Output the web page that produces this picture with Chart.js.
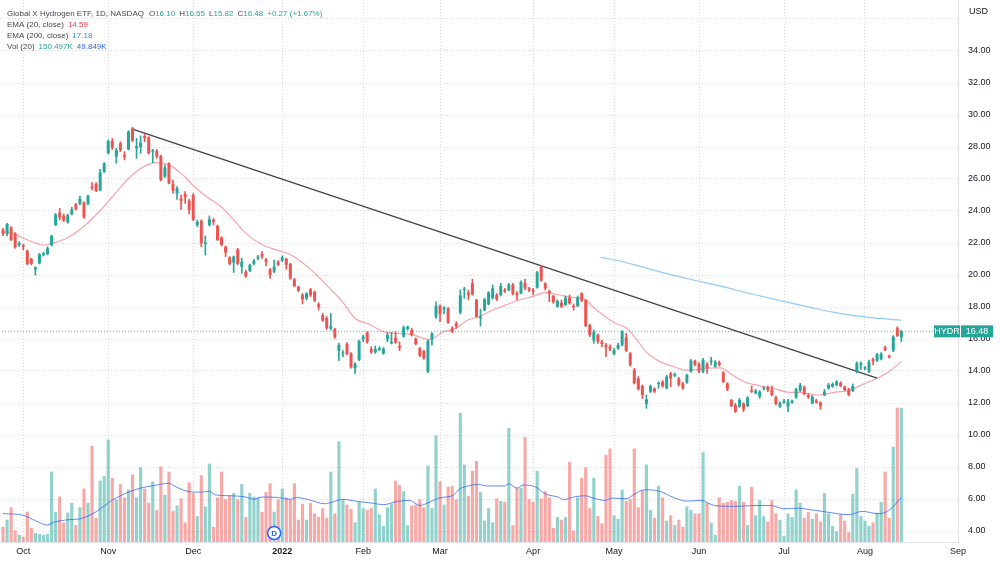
<!DOCTYPE html>
<html>
<head>
<meta charset="utf-8">
<title>Global X Hydrogen ETF, 1D</title>
<script src="https://cdn.jsdelivr.net/npm/chart.js@4.4.0/dist/chart.umd.min.js"></script>
<style>
  html, body { margin: 0; padding: 0; background: #ffffff; }
  canvas { display: block; }
</style>
</head>
<body>
<canvas id="chart" width="1000" height="563"></canvas>
<script>
// daily bars, index 0 = 24 Sep 2021 ... index 222 = 12 Aug 2022
const opens = [
  22.81,22.56,22.98,22.60,21.87,21.87,21.52,21.00,20.35,20.73,
  21.25,21.31,21.87,23.13,23.90,23.69,23.29,23.79,24.42,24.44,
  24.54,24.44,25.52,25.69,25.31,26.46,27.60,28.38,27.40,28.23,
  27.50,27.85,29.17,27.92,28.00,28.69,28.60,27.71,27.75,27.44,
  26.15,26.98,25.69,25.10,24.79,25.06,24.65,25.00,23.13,23.40,
  21.94,23.13,23.44,23.06,22.33,21.77,21.10,20.77,21.60,20.52,
  20.21,20.25,20.69,21.04,21.31,20.98,20.35,20.21,20.83,20.90,
  21.00,20.69,19.73,19.27,18.75,18.54,19.10,18.96,18.17,17.50,
  17.31,16.65,16.63,15.27,15.08,15.69,15.10,14.17,14.69,15.98,
  16.40,15.38,15.17,15.33,15.10,15.98,15.73,16.08,15.56,16.15,
  16.63,16.56,16.02,15.42,15.25,13.96,15.98,17.40,18.08,17.85,
  17.92,16.67,16.98,17.65,19.06,18.90,19.48,18.44,17.29,17.81,
  18.17,18.54,18.75,18.75,19.06,19.06,19.40,18.85,18.85,19.52,
  19.17,19.06,19.21,20.52,19.48,19.00,18.69,18.02,18.27,18.13,
  18.58,18.08,18.06,18.85,18.44,16.88,15.90,16.25,15.83,15.63,
  15.52,15.06,15.42,15.63,16.10,15.10,14.06,13.54,13.06,11.94,
  12.71,12.90,13.19,13.33,12.92,13.85,13.71,13.54,13.23,13.27,
  13.96,14.65,14.44,13.96,14.44,14.56,14.27,14.54,13.92,13.23,
  12.19,11.88,11.77,11.98,11.81,12.81,12.60,12.40,12.90,12.98,
  12.85,12.35,11.77,12.02,11.77,12.02,12.35,12.77,13.02,12.50,
  11.98,12.15,12.02,12.50,12.92,13.02,13.13,13.27,13.02,12.85,
  12.77,13.96,14.38,14.15,13.96,14.73,14.65,14.73,15.48,14.96,
  15.27,16.67,16.10
];
const highs = [
  22.92,23.23,23.02,22.65,22.08,21.92,21.56,21.04,20.52,21.35,
  21.42,21.77,22.50,23.85,24.17,23.81,23.81,24.23,24.48,24.94,
  24.58,25.00,25.77,25.77,26.60,27.02,28.44,28.54,27.92,28.33,
  27.71,29.02,29.23,28.54,28.69,28.81,28.65,27.85,27.85,27.50,
  26.88,27.02,25.94,25.52,25.00,25.21,24.73,25.10,23.44,23.44,
  22.44,23.69,23.54,23.13,22.40,21.81,21.15,21.19,21.67,21.04,
  20.31,20.69,20.98,21.23,21.46,21.04,20.42,20.94,20.90,21.19,
  21.04,20.73,19.79,19.31,18.85,18.90,19.17,19.00,18.27,17.60,
  17.40,17.60,16.67,15.73,15.27,15.77,15.15,14.52,15.94,16.23,
  16.46,15.52,15.56,15.52,15.46,16.40,16.40,16.46,15.83,16.81,
  16.81,16.67,16.08,15.48,15.31,15.94,16.40,18.33,18.13,18.02,
  17.96,16.77,17.08,19.06,19.23,19.06,19.73,18.48,17.85,18.54,
  18.96,19.38,18.85,19.48,19.17,19.48,19.48,18.96,19.63,19.73,
  19.23,19.17,20.23,20.60,19.52,19.06,18.75,18.44,18.44,18.69,
  18.75,18.19,18.69,18.90,18.48,16.92,16.56,16.31,15.94,15.73,
  15.63,15.42,15.73,16.52,16.35,15.15,14.17,13.65,13.13,12.50,
  13.13,12.96,13.33,13.40,13.73,13.92,13.88,13.60,13.29,13.81,
  14.73,14.69,14.52,14.79,14.52,14.85,14.65,14.63,13.96,13.27,
  12.23,11.98,12.29,12.02,12.40,13.06,12.85,12.77,13.02,13.06,
  13.06,12.44,12.08,12.23,12.23,12.19,12.92,13.23,13.06,12.60,
  12.48,12.23,12.08,12.85,13.23,13.27,13.40,13.33,13.06,12.92,
  13.19,14.58,14.58,14.27,14.69,14.81,15.10,15.15,15.56,15.00,
  16.21,16.77,16.55
];
const lows = [
  22.46,22.44,22.15,21.67,21.77,21.56,20.63,20.63,20.00,20.69,
  21.19,21.25,21.81,23.08,23.44,23.33,23.23,23.75,24.06,24.38,
  23.54,24.38,25.31,25.21,25.27,26.40,27.56,27.85,26.98,27.71,
  27.19,27.81,28.33,27.29,27.60,28.33,27.56,27.02,27.29,25.88,
  26.10,25.69,25.10,24.73,24.10,24.48,23.81,23.40,23.02,21.77,
  21.25,23.06,23.13,22.15,21.81,21.15,20.63,20.15,20.63,20.10,
  19.85,20.21,20.63,20.94,21.04,20.56,19.79,20.15,20.58,20.83,
  20.35,19.73,19.27,18.96,18.19,18.44,18.65,18.33,17.81,17.10,
  16.60,16.56,16.04,14.65,14.90,15.00,14.17,13.85,14.65,15.83,
  15.73,15.10,15.10,15.27,15.04,15.83,15.69,15.73,15.27,16.10,
  16.56,16.19,15.63,14.90,14.73,13.90,15.63,17.29,17.08,17.56,
  16.98,16.40,16.67,17.56,18.54,18.44,18.73,17.35,16.81,17.77,
  18.13,18.50,18.40,18.69,18.90,19.02,18.75,18.44,18.81,19.06,
  18.96,18.75,19.17,19.60,19.06,18.33,18.23,17.98,17.96,18.08,
  18.17,17.81,18.02,18.33,16.77,16.15,15.73,15.73,15.52,14.90,
  15.27,15.00,15.35,15.56,15.21,14.31,13.19,12.81,12.29,11.67,
  12.65,12.65,12.92,12.98,12.88,13.02,13.65,13.06,12.85,13.23,
  13.92,14.31,13.90,13.90,13.85,14.38,14.23,14.31,13.27,12.77,
  11.77,11.40,11.73,11.46,11.77,12.65,12.56,12.29,12.81,12.71,
  12.44,11.88,11.71,11.98,11.46,11.98,12.29,12.71,12.50,12.29,
  11.94,11.98,11.60,12.44,12.85,12.98,13.06,13.02,12.77,12.44,
  12.71,13.90,14.10,14.06,13.90,14.38,14.58,14.69,15.27,14.81,
  15.21,16.15,15.82
];
const closes = [
  22.56,23.19,22.19,21.71,21.98,21.77,20.69,20.69,20.48,21.29,
  21.35,21.67,22.44,23.79,23.60,23.40,23.75,24.10,24.10,24.75,
  23.60,24.96,25.42,25.25,26.40,26.98,28.38,27.96,27.81,27.81,
  27.40,28.96,28.40,28.06,28.27,28.54,27.60,27.81,27.40,25.94,
  26.71,25.73,25.27,25.42,24.63,24.85,24.06,23.44,23.33,21.98,
  22.04,23.48,23.33,22.19,21.88,21.40,20.69,21.15,20.69,20.83,
  19.90,20.63,20.90,21.15,21.15,20.81,20.00,20.52,20.63,21.10,
  20.63,19.79,19.31,19.02,18.48,18.85,18.73,18.40,17.98,17.15,
  16.67,16.81,16.10,15.63,15.15,15.06,14.23,14.44,15.88,16.15,
  15.79,15.17,15.38,15.44,15.40,16.25,15.83,15.77,15.46,16.73,
  16.77,16.25,15.69,14.96,14.79,15.88,16.35,18.06,17.56,17.96,
  17.02,16.46,16.81,18.73,19.13,18.73,18.79,17.40,17.40,18.48,
  18.90,19.17,18.48,19.31,18.96,19.40,18.81,18.75,19.56,19.17,
  19.04,18.96,20.17,19.65,19.17,18.85,18.29,18.38,18.02,18.58,
  18.23,17.98,18.58,18.40,16.81,16.25,16.46,15.83,15.69,15.48,
  15.35,15.31,15.63,16.46,15.27,14.38,13.23,12.85,12.50,12.23,
  13.06,12.71,13.27,13.06,13.65,13.54,13.81,13.13,12.92,13.75,
  14.65,14.38,13.96,14.69,14.17,14.65,14.58,14.38,13.33,12.85,
  11.81,11.46,12.19,11.60,12.35,12.71,12.77,12.71,12.98,12.81,
  12.50,11.94,12.02,12.15,12.08,12.15,12.85,13.13,12.56,12.35,
  12.40,12.02,11.81,12.71,13.13,13.19,13.33,13.06,12.81,12.50,
  13.06,14.48,14.48,14.23,14.58,14.60,15.04,15.06,15.31,14.85,
  16.15,16.19,16.48
];
// volume in thousands
const volumes = [
  17,25,39,13,8,6,34,16,10,9,
  8,9,79,34,51,22,33,44,19,39,
  60,44,108,27,69,74,115,72,48,65,
  50,59,76,50,84,60,44,68,36,85,
  53,79,35,41,49,22,67,55,29,75,
  40,88,17,50,79,48,52,55,48,65,
  28,55,51,50,34,56,66,34,48,60,
  50,48,66,25,43,25,44,32,28,38,
  27,79,32,113,48,42,37,22,45,38,
  36,38,60,31,18,39,43,69,64,57,
  19,41,42,48,39,86,38,120,68,42,
  62,63,48,145,87,52,80,91,56,24,
  38,22,49,46,45,128,19,61,61,118,
  48,45,80,49,57,50,16,28,25,28,
  90,13,50,72,84,38,72,29,21,98,
  105,30,26,59,46,48,105,39,58,87,
  36,27,63,50,24,30,19,25,17,40,
  36,32,32,101,44,22,8,50,44,45,
  47,46,63,45,19,62,30,47,29,23,
  47,32,25,7,32,28,59,44,27,34,
  26,32,23,55,32,18,12,31,24,11,
  54,83,29,24,18,22,33,45,79,27,
  107,151,150.5
];

// indicator lines (bar index, value)
const ema20X = [0,2.5,6,10,12.4,15.7,19.8,23.9,27.4,31.7,35.8,38.3,40.8,44,47.3,50.6,53.9,56.3,60,64.2,
  68.2,70.7,74,77.3,80.6,83.8,87,90.8,94,97.3,100.6,103.9,105.5,108.8,111.3,115,117.7,121,124.3,127.5,
  130.8,134.1,137.4,140.7,143.6,145.8,149.1,151.6,154,156.5,158.9,162.2,165.5,168.8,171.7,173.3,177.4,179.9,183.2,187.3,
  190.6,193.8,197.1,201.6,205.7,209,212.3,215.6,218.9,222];
const ema20Y = [22.7,22.6,22.2,21.87,22.0,22.3,23.0,24.0,25.0,26.2,26.9,27.02,26.9,26.35,25.52,24.85,24.27,23.65,22.6,21.87,
  21.52,21.31,20.77,20.05,19.2,18.35,17.3,16.88,16.46,16.35,16.31,16.04,15.96,16.46,16.6,17.2,17.4,17.81,18.13,18.44,
  18.65,18.9,18.75,18.6,18.5,18.0,17.35,16.95,16.7,16.0,15.2,14.6,14.3,14.05,14.1,14.17,14.2,13.8,13.33,13.06,
  12.9,12.68,12.65,12.5,12.68,12.78,13.15,13.5,13.95,14.59];
const ema200X = [147.7,153.2,157.3,163.9,169.6,177.4,185.6,193.8,200,205.7,214,222];
const ema200Y = [21.1,20.83,20.55,20.1,19.75,19.3,18.78,18.3,17.95,17.65,17.35,17.18];
const volMaX = [0,5,8,11,12.5,16,19,23,27,31,34,37.5,41,42.5,45.5,49,51,52.5,56,60,
  62,64,68,71,72.5,75.5,79.5,81.5,84,87,91,94,97.5,100.5,103,105.5,108,111,113,115,
  117.5,119.5,124,125,127,128.5,131.5,134,137.5,138.5,141,143.8,145.8,148.7,150.7,154,156.1,158.5,162.2,165.5,
  168.8,172.5,175.8,180.7,185.6,189.7,193,196.3,200,202.5,209,212.3,216.4,218.9,222];
const volMaY = [32,30,24,19,22,25,26,34,47,56,60.6,63.6,66,62.5,57,56,57,53,52,50.5,
  48,50.5,50,48,50,47.5,43,45,48,46,43.8,42,45.6,46.7,41,45,49.7,52,60,63,
  64.7,63,63,65.5,60.6,64,62,54,50,47.5,50.5,52,49.4,46.7,49.4,48.6,54,58.7,57,50.5,
  46,46.7,41,40,41,41,37.4,38,36,34.4,30.7,34.4,31.8,35.5,49.85];

// drawn trend line
const trendX = [32, 216];
const trendY = [29.12, 13.55];

// axis ticks
const monthIdx = [5, 26, 47, 69, 89, 108, 131, 151, 172, 193, 213, 236];
const monthLabels = ['Oct', 'Nov', 'Dec', '2022', 'Feb', 'Mar', 'Apr', 'May', 'Jun', 'Jul', 'Aug', 'Sep'];
const priceTicks = [4, 6, 8, 10, 12, 14, 16, 18, 20, 22, 24, 26, 28, 30, 32, 34, 36];
const dividendIdx = 67;

const UP = '#26a69a';
const DOWN = '#ef5350';
const UP_VOL = 'rgba(38, 166, 154, 0.5)';
const DOWN_VOL = 'rgba(239, 83, 80, 0.5)';
const TEXT = '#131722';
const LEGEND_TEXT = '#434651';
const GRID = '#d9dce3';
const FONT = "'Liberation Sans', Arial, sans-serif";

const idx = opens.map((_, i) => i);
const isUp = idx.map(i => closes[i] >= opens[i]);
const last = closes.length - 1;
const pairs = (xs, ys) => xs.map((x, i) => ({ x: x, y: ys[i] }));

const overlay = {
  id: 'overlay',
  beforeDraw(chart) {
    const ctx = chart.ctx;
    ctx.save();
    ctx.fillStyle = '#ffffff';
    ctx.fillRect(0, 0, chart.width, chart.height);
    ctx.restore();
  },
  afterDatasetsDraw(chart) {
    // dividend marker
    const ctx = chart.ctx;
    const x = chart.scales.x.getPixelForValue(dividendIdx);
    const y = chart.chartArea.bottom - 9;
    ctx.save();
    ctx.beginPath();
    ctx.arc(x, y, 6.5, 0, Math.PI * 2);
    ctx.fillStyle = '#ffffff';
    ctx.fill();
    ctx.lineWidth = 1.5;
    ctx.strokeStyle = '#2962ff';
    ctx.stroke();
    ctx.fillStyle = '#2962ff';
    ctx.font = 'bold 8px ' + FONT;
    ctx.textAlign = 'center';
    ctx.textBaseline = 'middle';
    ctx.fillText('D', x, y + 0.5);
    ctx.restore();
  },
  afterDraw(chart) {
    const ctx = chart.ctx;
    const area = chart.chartArea;
    ctx.save();
    ctx.font = '8px ' + FONT;
    ctx.textBaseline = 'middle';
    ctx.textAlign = 'left';

    const line = (x, y, segs) => {
      segs.forEach(s => {
        ctx.fillStyle = s[1];
        ctx.fillText(s[0], x, y);
        x += ctx.measureText(s[0]).width + (s[2] || 0);
      });
    };
    line(7, 14, [
      ['Global X Hydrogen ETF, 1D, NASDAQ', LEGEND_TEXT, 5],
      ['O', LEGEND_TEXT], ['16.10', UP, 4],
      ['H', LEGEND_TEXT], ['16.55', UP, 4],
      ['L', LEGEND_TEXT], ['15.82', UP, 4],
      ['C', LEGEND_TEXT], ['16.48', UP, 4],
      ['+0.27 (+1.67%)', UP]
    ]);
    line(7, 24.5, [['EMA (20, close)', LEGEND_TEXT, 4], ['14.59', '#f23645']]);
    line(7, 35.5, [['EMA (200, close)', LEGEND_TEXT, 4], ['17.18', '#2196f3']]);
    line(7, 46.5, [['Vol (20)', LEGEND_TEXT, 4], ['150.497K', UP, 4], ['49.849K', '#2962ff']]);

    // axis unit
    ctx.font = '9px ' + FONT;
    ctx.fillStyle = TEXT;
    ctx.fillText('USD', area.right + 11, 12);

    // last price labels
    const yp = chart.scales.y.getPixelForValue(closes[last]);
    ctx.fillStyle = UP;
    ctx.fillRect(area.right - 24, yp - 6, 26, 12);
    ctx.fillRect(area.right + 3, yp - 6, 32, 12);
    ctx.fillStyle = '#ffffff';
    ctx.textAlign = 'center';
    ctx.fillText('HYDR', area.right - 11, yp + 0.5);
    ctx.fillText(closes[last].toFixed(2), area.right + 19, yp + 0.5);
    ctx.restore();
  }
};

new Chart(document.getElementById('chart'), {
  type: 'bar',
  data: {
    datasets: [
      {
        label: 'Volume',
        yAxisID: 'yv',
        data: idx.map(i => ({ x: i, y: volumes[i] })),
        backgroundColor: idx.map(i => isUp[i] ? UP_VOL : DOWN_VOL),
        barPercentage: 0.78,
        categoryPercentage: 1,
        grouped: false,
        order: 10
      },
      {
        type: 'line',
        label: 'Vol MA 20',
        yAxisID: 'yv',
        data: pairs(volMaX, volMaY),
        borderColor: 'rgba(41, 98, 255, 0.75)',
        borderWidth: 1,
        pointRadius: 0,
        cubicInterpolationMode: 'monotone',
        order: 9
      },
      {
        type: 'line',
        label: 'Last price',
        data: [{ x: -1, y: closes[last] }, { x: 240, y: closes[last] }],
        borderColor: 'rgba(38, 166, 154, 0.8)',
        borderWidth: 1,
        borderDash: [1, 2],
        pointRadius: 0,
        order: 8
      },
      {
        type: 'line',
        label: 'EMA 20',
        data: pairs(ema20X, ema20Y),
        borderColor: 'rgba(242, 54, 69, 0.45)',
        borderWidth: 1.2,
        pointRadius: 0,
        cubicInterpolationMode: 'monotone',
        order: 6
      },
      {
        type: 'line',
        label: 'EMA 200',
        data: pairs(ema200X, ema200Y),
        borderColor: 'rgba(33, 150, 243, 0.5)',
        borderWidth: 1.2,
        pointRadius: 0,
        cubicInterpolationMode: 'monotone',
        order: 6
      },
      {
        type: 'line',
        label: 'Trend',
        data: pairs(trendX, trendY),
        borderColor: '#3f434c',
        borderWidth: 1.4,
        pointRadius: 0,
        order: 5
      },
      {
        label: 'Wicks',
        data: idx.map(i => ({ x: i, y: [lows[i], highs[i]] })),
        backgroundColor: idx.map(i => isUp[i] ? UP : DOWN),
        barThickness: 1,
        grouped: false,
        order: 2
      },
      {
        label: 'Bodies',
        data: idx.map(i => ({ x: i, y: [opens[i], closes[i]] })),
        backgroundColor: idx.map(i => isUp[i] ? UP : DOWN),
        barPercentage: 0.74,
        categoryPercentage: 1,
        minBarLength: 1,
        grouped: false,
        order: 1
      }
    ]
  },
  options: {
    responsive: false,
    animation: false,
    devicePixelRatio: 1,
    layout: { padding: 0 },
    plugins: {
      legend: { display: false },
      tooltip: { enabled: false }
    },
    scales: {
      x: {
        type: 'linear',
        position: 'bottom',
        min: -0.75,
        max: 236,
        offset: false,
        afterBuildTicks: axis => { axis.ticks = monthIdx.map(v => ({ value: v })); },
        afterFit: axis => { axis.height = 21; axis.paddingLeft = 0; axis.paddingRight = 0; },
        grid: { offset: false, color: GRID, drawTicks: false },
        border: { display: true, color: '#e0e3eb', dash: [1, 2] },
        ticks: {
          autoSkip: false,
          maxRotation: 0,
          padding: 4,
          color: TEXT,
          font: c => ({ family: FONT, size: 9, weight: (c.tick && c.tick.value === 69) ? 'bold' : 'normal' }),
          callback: v => monthLabels[monthIdx.indexOf(v)] || ''
        }
      },
      y: {
        type: 'linear',
        position: 'right',
        min: 3.3125,
        max: 37.1875,
        afterBuildTicks: axis => { axis.ticks = priceTicks.map(v => ({ value: v })); },
        afterFit: axis => { axis.width = 42; axis.paddingTop = 0; axis.paddingBottom = 0; },
        grid: { color: GRID, drawTicks: false },
        border: { display: true, color: '#e0e3eb', dash: [1, 2] },
        ticks: {
          padding: 10,
          color: TEXT,
          font: { family: FONT, size: 9 },
          callback: v => v === 36 ? '' : v.toFixed(2)
        }
      },
      yv: {
        type: 'linear',
        display: false,
        min: 0,
        max: 609
      }
    }
  },
  plugins: [overlay]
});
</script>
</body>
</html>
